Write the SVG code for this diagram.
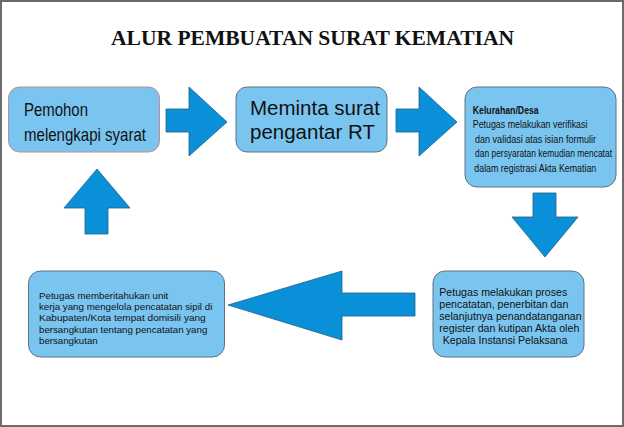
<svg xmlns="http://www.w3.org/2000/svg" width="624" height="427" viewBox="0 0 624 427">
<style>
.box{fill:#7ac5f0;stroke:#5f7384;stroke-width:1}
.arr{fill:#0a90d8;stroke:#1f5f86;stroke-width:0.8}
.t{font-family:"Liberation Sans",Arial,sans-serif;fill:#111}
.title{font-family:"Liberation Serif","Times New Roman",serif;font-weight:bold;font-size:20px;fill:#111}
</style>
<rect x="1" y="1" width="622" height="425" fill="#fff" stroke="#6b6b6b" stroke-width="2"/>
<text class="title" x="111" y="45" textLength="403" lengthAdjust="spacingAndGlyphs">ALUR PEMBUATAN SURAT KEMATIAN</text>
<g id="connectors">
<polygon class="arr" points="166,109 189,109 189,87 227,122 189,156 189,132 166,132"/>
<polygon class="arr" points="396,109 419,109 419,87 457,122 419,156 419,132 396,132"/>
<polygon class="arr" points="533,193 556,193 556,217 578,217 545,257 512,217 533,217"/>
<polygon class="arr" points="415,293 342,293 342,271 228,305 342,340 342,316 415,316"/>
<polygon class="arr" points="85,234 85,208 64,208 97,169 130,208 108,208 108,234"/>
</g>
<g id="n1">
<rect class="box" style="stroke:#c68a98" x="8.5" y="87" width="151" height="65" rx="11"/>
<text class="t" font-size="18.5" x="24" y="116" textLength="64" lengthAdjust="spacingAndGlyphs">Pemohon</text>
<text class="t" font-size="18.5" x="24" y="141" textLength="122" lengthAdjust="spacingAndGlyphs">melengkapi syarat</text>
</g>
<g id="n2">
<rect class="box" x="236" y="87" width="151" height="65" rx="11"/>
<text class="t" font-size="20.5" x="250" y="115">Meminta surat</text>
<text class="t" font-size="20.5" x="250" y="139">pengantar RT</text>
</g>
<g id="n3">
<rect class="box" x="465" y="87" width="151" height="100" rx="12"/>
<g transform="scale(0.79,1)">
<text class="t" font-size="10.8" font-weight="bold" x="598.4" y="114" textLength="83.5" lengthAdjust="spacingAndGlyphs">Kelurahan/Desa</text>
<text class="t" font-size="10.8" x="598.4" y="128.5" textLength="145.2" lengthAdjust="spacingAndGlyphs">Petugas melakukan verifikasi</text>
<text class="t" font-size="10.8" x="601.3" y="143" textLength="153.2" lengthAdjust="spacingAndGlyphs">dan validasi atas isian formulir</text>
<text class="t" font-size="10.8" x="601.3" y="157.5" textLength="173.4" lengthAdjust="spacingAndGlyphs">dan persyaratan kemudian mencatat</text>
<text class="t" font-size="10.8" x="600.4" y="172" textLength="154.4" lengthAdjust="spacingAndGlyphs">dalam registrasi Akta Kematian</text>
</g>
</g>
<g id="n4">
<rect class="box" x="433" y="271" width="151" height="86" rx="12"/>
<text class="t" font-size="10.6" x="439.3" y="295.7" textLength="128" lengthAdjust="spacingAndGlyphs">Petugas melakukan proses</text>
<text class="t" font-size="10.6" x="439.3" y="307.8" textLength="129" lengthAdjust="spacingAndGlyphs">pencatatan, penerbitan dan</text>
<text class="t" font-size="10.6" x="439.3" y="319.9" textLength="142.3" lengthAdjust="spacingAndGlyphs">selanjutnya penandatanganan</text>
<text class="t" font-size="10.6" x="439.3" y="332" textLength="140" lengthAdjust="spacingAndGlyphs">register dan kutipan Akta oleh</text>
<text class="t" font-size="10.6" x="442.7" y="344.1" textLength="124.7" lengthAdjust="spacingAndGlyphs">Kepala Instansi Pelaksana</text>
</g>
<g id="n5">
<rect class="box" x="28.5" y="271" width="196" height="86" rx="12"/>
<text class="t" font-size="9.8" x="39" y="298.5" textLength="129.3" lengthAdjust="spacingAndGlyphs">Petugas memberitahukan unit</text>
<text class="t" font-size="9.8" x="39" y="310" textLength="173.3" lengthAdjust="spacingAndGlyphs">kerja yang mengelola pencatatan sipil di</text>
<text class="t" font-size="9.8" x="39" y="321.4" textLength="166.7" lengthAdjust="spacingAndGlyphs">Kabupaten/Kota tempat domisili yang</text>
<text class="t" font-size="9.8" x="39" y="332.8" textLength="168.3" lengthAdjust="spacingAndGlyphs">bersangkutan tentang pencatatan yang</text>
<text class="t" font-size="9.8" x="39" y="344.2" textLength="58.7" lengthAdjust="spacingAndGlyphs">bersangkutan</text>
</g>
</svg>
